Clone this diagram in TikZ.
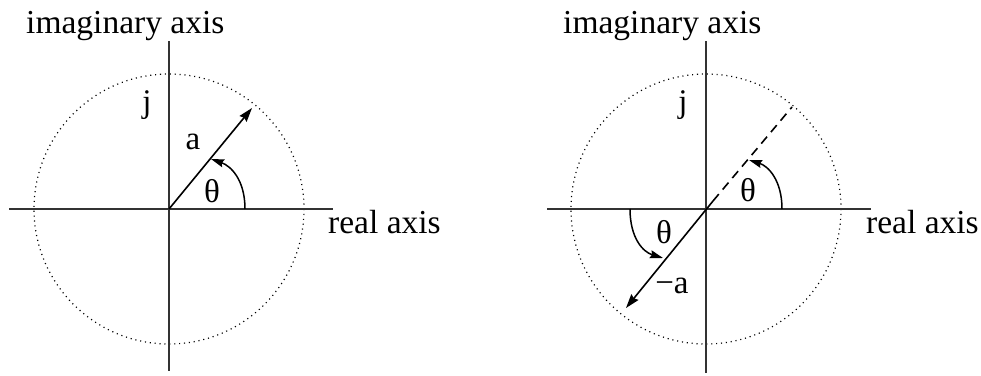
\documentclass[tikz,border=0pt]{standalone}
\usepackage{fontspec}
\setmainfont{Liberation Serif}
\usetikzlibrary{arrows.meta}
\begin{document}
\begin{tikzpicture}[x=1pt,y=-1pt,
  axisline/.style={line width=1.3pt, black!80},
  unitcircle/.style={line width=1.2pt, dash pattern=on 1.1pt off 3.8pt, black},
  vec/.style={line width=1.6pt, -{Stealth[length=14pt,width=9pt,inset=1.5pt]}},
  dashvec/.style={line width=1.6pt, dash pattern=on 9pt off 6pt},
  anglearc/.style={line width=1.5pt, -{Stealth[length=13pt,width=8pt,inset=1.5pt]}},
  lbl/.style={inner sep=0pt, font=\fontsize{33}{40}\selectfont},
  axlbl/.style={inner sep=0pt, anchor=base west, font=\fontsize{33.5}{40}\selectfont}]
\useasboundingbox (0,0) rectangle (981,375);

% ---------- left diagram ----------
\coordinate (O1) at (169,209);
\coordinate (L1l) at (9,209);
\coordinate (L1r) at (333,209);
\coordinate (L1t) at (169,41);
\coordinate (L1b) at (169,371);
\coordinate (A1) at (252,108);
\coordinate (T1s) at (245,209);
\coordinate (T1e) at (211,159);

\draw[unitcircle] (O1) circle[radius=135];
\draw[axisline] (L1l) -- (L1r);
\draw[axisline] (L1t) -- (L1b);
\draw[vec] (O1) -- (A1);
\draw[anglearc] (T1s) .. controls (245,180) and (231,166) .. (T1e);

\node[axlbl] (im1) at (26,33) {imaginary axis};
\node[axlbl] (re1) at (328,233) {real axis};
\node[lbl] (j1) at (147,105) {j};
\node[lbl] (a1) at (193,142) {a};
\node[lbl] (th1) at (212,191) {θ};

% ---------- right diagram ----------
\coordinate (O2) at (706,209);
\coordinate (L2l) at (547,209);
\coordinate (L2r) at (871,209);
\coordinate (L2t) at (706,41);
\coordinate (L2b) at (706,373);
\coordinate (D2) at (792,107);
\coordinate (S2) at (713,201);
\coordinate (A2) at (626,308);
\coordinate (T2s) at (782,209);
\coordinate (T2e) at (749,160);
\coordinate (T3s) at (630,209);
\coordinate (T3e) at (663,258);

\draw[unitcircle] (O2) circle[radius=135];
\draw[axisline] (L2l) -- (L2r);
\draw[axisline] (L2t) -- (L2b);
\draw[dashvec] (S2) -- (D2);
\draw[vec] (S2) -- (A2);
\draw[anglearc] (T2s) .. controls (782,180) and (768,166) .. (T2e);
\draw[anglearc] (T3s) .. controls (630,238) and (643,252) .. (T3e);

\node[axlbl] (im2) at (563,33) {imaginary axis};
\node[axlbl] (re2) at (866,233) {real axis};
\node[lbl] (j2) at (683,105) {j};
\node[lbl] (th2) at (748,190) {θ};
\node[lbl] (th3) at (664,232) {θ};
\node[lbl] (ma) at (672,286) {−a};
\end{tikzpicture}
\end{document}
